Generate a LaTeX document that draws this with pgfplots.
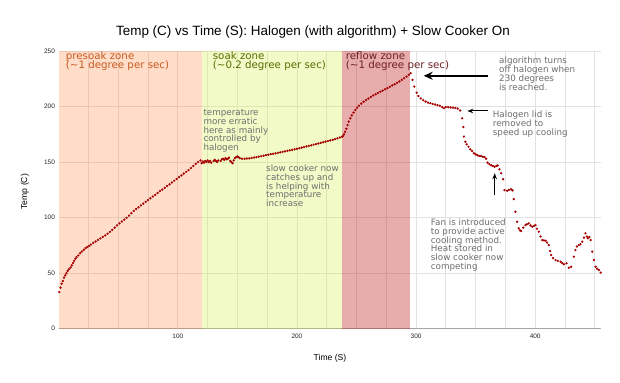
\documentclass[border=0pt]{standalone}
\usepackage{pgfplots}
\pgfplotsset{compat=1.18}
\usepackage{fontspec}
\setmainfont{Liberation Sans}
\newfontfamily\dv{DejaVu Sans}
\usetikzlibrary{arrows.meta}
\definecolor{dotred}{RGB}{165,0,0}
\definecolor{presoakc}{RGB}{255,120,40}
\definecolor{soakc}{RGB}{207,243,35}
\definecolor{reflowc}{RGB}{189,18,18}
\definecolor{gridc}{RGB}{226,226,226}
\definecolor{anngray}{RGB}{110,110,110}
\definecolor{presoaktxt}{RGB}{200,90,30}
\definecolor{soaktxt}{RGB}{90,105,0}
\definecolor{reflowtxt}{RGB}{110,30,35}

\pgfplotstableread{
x y
0.5 33
1.5 37
2.5 40.5
3.5 43
4.5 46
5.5 48
6.5 50
7.5 52
8.5 53.5
10 55
11 57
12 59
13 61
14 63
15 64.5
16.5 66
18 68
19.5 69.5
21 71
22.5 72.5
24 73.5
25.5 74.5
27 75.7
29 77.2
31 78.5
33 80
35 81.3
37 82.6
39 84
41 85.5
43 87.2
45 89
47 91
49 93
51 94.8
53 96.5
55 98.2
57 99.8
59 101.8
61 104
63 106
65 107.7
67 109.3
69 111
71 112.6
73 114.2
75 115.8
77 117.4
79 119
81 120.5
83 122.2
85 123.9
87 125.2
89 126.8
91 128.4
93 130
95 131.6
97 133.2
99 134.8
101 136.4
103 138
105 139.6
107 141.2
109 142.8
111 144.6
113 146.5
115 148.4
117 150
119 151.5
}\presoak

\pgfplotstableread{
x y
120 149
121 150.5
122 149.5
123 151
124 150
125 151.5
126 150
127 151
128 149.5
130 151
131 152
132 151
133 150
134 151.5
136 151
137 152.5
138 153
139 152
140 153.5
141 152.5
142 153
143 154
144 151
145 150
146 149
147 151.5
148 153.5
149 154.5
150 155
151 154.5
152 153.5
154 153
156 153
158 153.2
160 153.3
162 153.7
164 154.1
166 154.5
168 154.9
170 155.3
172 155.7
174 156.2
176 156.6
178 157.1
180 157.5
182 157.9
184 158.3
186 158.8
188 159.2
190 159.6
192 160.1
194 160.6
196 161
198 161.5
200 162
202 162.5
204 163
206 163.5
208 164.1
210 164.6
212 165.1
214 165.7
216 166.2
218 166.8
220 167.3
222 167.8
224 168.4
226 168.9
228 169.5
230 170
232 170.7
234 171.4
236 172.1
238 172.8
}\soak

\pgfplotstableread{
x y
238.6 173.5
239.5 175
240.5 177.3
241.5 180
242.5 183.3
243.5 186.5
244.8 189.4
246 192
247.5 194.5
249 196.9
250.5 199
252 200.8
254 202.6
256 204.3
258 205.8
260 207.2
262 208.6
264 210
266 211.1
268 212.2
270 213.3
272 214.4
274 215.5
276 216.6
278 217.8
280 219
282 220.1
284 221.3
286 222.6
288 224
290 225.5
292 227
294 228.6
295.5 230
}\reflow

\pgfplotstableread{
x y
297 224
298.5 218
300.5 212.5
302 209.5
304 207.3
306 205.8
308 204.5
310 203.6
312 203
314 202.3
316 201.8
318 201.2
320 200.7
322 199.5
323.5 198.5
325 199.5
327 199.4
329 199.2
331 199
333 198.7
335 198.2
337 196.5
338.7 189.4
339.7 181.5
340.2 173
341.4 168.3
342.5 166
344 163.8
345.5 161.5
347 160
348.5 158
350 157
351.5 156.2
353 155.5
354.5 155.3
356 154.8
357.5 154.5
358.8 153
360 149.5
361.5 148.2
363 147.2
364.5 146.5
366 145.8
367.5 146.5
368.5 147
370 143.5
371.4 140
373.1 134.5
374.2 124.8
376.5 124.2
378 125
379.8 125.5
381 124.5
382 116.7
383.4 105.3
384.9 96.3
386.2 90.4
387.2 88.5
388.2 87.9
390 91
391.8 93.3
393 94
394.6 94.9
396 93
397.5 91.8
399 92.5
400.3 93.3
401.5 90
403 87.3
404.5 83
405.9 79.8
407.3 79.5
408.7 79.2
410 77.5
411.4 75.3
412.5 70
413.4 66.3
415 63.5
417.1 61.8
419 61
421.3 60.3
422.7 59
424.1 58
426.3 58.9
428.3 54.9
430.2 55.8
432.4 64.8
433.8 70.8
435 74
436.6 75.3
438 76
439.5 78.3
441 82
442.2 85.9
443.3 83
444.2 81.4
445.5 82.5
446.5 79.8
447.9 69.3
449.3 61.8
450.7 55.8
452 54
453.5 52.8
455 50.5
}\cooling

\begin{document}
\begin{tikzpicture}
\fill[white] (0,0) rectangle (620bp,383bp);
\begin{axis}[
  at={(58.7bp,54.3bp)}, anchor=south west,
  width=542bp, height=277.7bp, scale only axis,
  xmin=0, xmax=455, ymin=0, ymax=250,
  axis line style={draw=none},
  xtick={100,200,300,400},
  minor xtick={25,50,...,450},
  ytick={0,50,...,250},
  grid=both,
  major grid style={draw=gridc, line width=0.7bp},
  minor grid style={draw=gridc, line width=0.7bp},
  major tick length=0pt, minor tick length=0pt,
  tick style={draw=none},
  /pgf/number format/assume math mode=true,
  ticklabel style={font=\fontsize{6.5}{7}\selectfont, text=black!85, inner sep=0pt},
  yticklabel style={xshift=-3.6bp},
  xticklabel style={yshift=-4.6bp},
  clip=true,
]
\addplot[only marks, mark=*, mark size=0.95bp, color=dotred, mark options={draw=none, fill=dotred}] table[x=x,y=y] {\presoak};
\addplot[only marks, mark=*, mark size=0.95bp, color=dotred, mark options={draw=none, fill=dotred}] table[x=x,y=y] {\soak};
\addplot[only marks, mark=*, mark size=0.95bp, color=dotred, mark options={draw=none, fill=dotred}] table[x=x,y=y] {\reflow};
\addplot[only marks, mark=*, mark size=0.95bp, color=dotred, mark options={draw=none, fill=dotred}] table[x=x,y=y] {\cooling};
\draw[black!35, line width=1.6bp] (axis cs:0,0) -- (axis cs:455,0);
\fill[presoakc, fill opacity=0.25] (axis cs:0,0) rectangle (axis cs:120,250);
\fill[soakc, fill opacity=0.25] (axis cs:120,0) rectangle (axis cs:238,250);
\fill[reflowc, fill opacity=0.35] (axis cs:238,0) rectangle (axis cs:295.3,250);
\draw[black, line width=1.6bp, -{Stealth[open, length=9bp, width=8bp]}] (axis cs:360.5,227.7) -- (axis cs:306.4,227.7);
\draw[black, line width=1bp, -{Stealth[length=6bp, width=4.5bp]}] (axis cs:360.5,196) -- (axis cs:343,196);
\draw[black, line width=1bp, -{Stealth[length=6bp, width=4.5bp]}] (axis cs:366,120.3) -- (axis cs:366,140);
\end{axis}

% zone labels (anchor = baseline of the last line)
\node[anchor=base west, inner sep=0pt, align=left, text=presoaktxt, font=\dv\fontsize{10.3}{10}\selectfont] at (65.7bp,314bp) {presoak zone\\(\textasciitilde 1 degree per sec)};
\node[anchor=base west, inner sep=0pt, align=left, text=soaktxt, font=\dv\fontsize{10.3}{10}\selectfont] at (212.7bp,314bp) {soak zone\\(\textasciitilde 0.2 degree per sec)};
\node[anchor=base west, inner sep=0pt, align=left, text=reflowtxt, font=\dv\fontsize{10.3}{10}\selectfont] at (345.7bp,314bp) {reflow zone\\(\textasciitilde 1 degree per sec)};

% annotations
\node[anchor=base west, inner sep=0pt, align=left, text=anngray, font=\dv\fontsize{8.8}{8.9}\selectfont] at (203.3bp,232.2bp) {temperature\\more erratic\\here as mainly\\controlled by\\halogen};
\node[anchor=base west, inner sep=0pt, align=left, text=anngray, font=\dv\fontsize{8.8}{8.9}\selectfont] at (266bp,176.2bp) {slow cooker now\\catches up and\\is helping with\\temperature\\increase};
\node[anchor=base west, inner sep=0pt, align=left, text=anngray, font=\dv\fontsize{8.8}{8.9}\selectfont] at (499bp,292.8bp) {algorithm turns\\off halogen when\\230 degrees\\is reached.};
\node[anchor=base west, inner sep=0pt, align=left, text=anngray, font=\dv\fontsize{8.8}{8.9}\selectfont] at (492.7bp,247.7bp) {Halogen lid is\\removed to\\speed up cooling};
\node[anchor=base west, inner sep=0pt, align=left, text=anngray, font=\dv\fontsize{8.8}{8.9}\selectfont] at (430.7bp,113.3bp) {Fan is introduced\\to provide active\\cooling method.\\Heat stored in\\slow cooker now\\competing};

% title and axis labels
\node[font=\fontsize{13.5}{15}\selectfont] at (313bp,351bp) {Temp (C) vs Time (S): Halogen (with algorithm) + Slow Cooker On};
\node[font=\fontsize{8.6}{10}\selectfont] at (330bp,24.3bp) {Time (S)};
\node[font=\fontsize{8.6}{10}\selectfont, rotate=90] at (25bp,191.3bp) {Temp (C)};
\end{tikzpicture}
\end{document}
